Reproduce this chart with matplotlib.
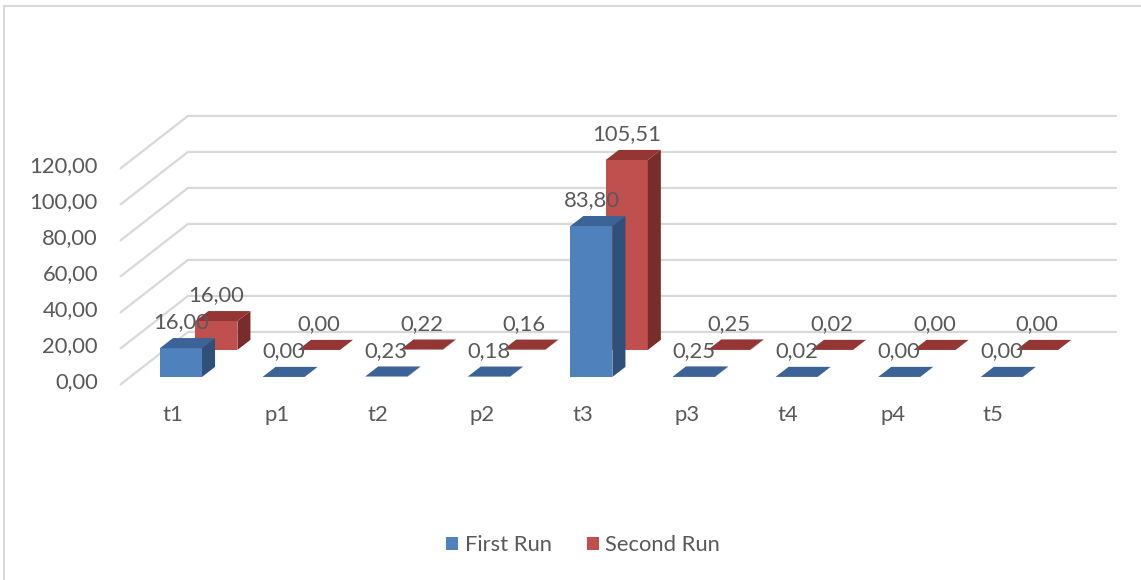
import matplotlib.pyplot as plt
from matplotlib.patches import Polygon, Patch, Rectangle

categories = ['t1', 'p1', 't2', 'p2', 't3', 'p3', 't4', 'p4', 't5']
first_run = [16.00, 0.00, 0.23, 0.18, 83.80, 0.25, 0.02, 0.00, 0.00]
second_run = [16.00, 0.00, 0.22, 0.16, 105.51, 0.25, 0.02, 0.00, 0.00]
series_names = ['First Run', 'Second Run']
yticks = [0, 20, 40, 60, 80, 100, 120]

# face colours: front, top, side
blue = ('#4f81bd', '#3b6397', '#2f5079')
red = ('#c0504d', '#943634', '#7a2c2a')
text_color = '#595959'
grid_color = '#d9d9d9'

plt.rcParams['font.family'] = ['Lato', 'DejaVu Sans']
plt.rcParams['font.size'] = 15.8

# oblique projection parameters (x in category units, y in value units)
bar_w = 0.41
box_dx, box_dy = 0.127, 5.6          # depth of one box
ser_dx, ser_dy = 0.345, 15.0         # shift of the back series
wall_dx, wall_dy = 0.663, 29.4       # depth of the whole floor
floor_x0, floor_y0 = -0.595, -4.4    # front-left corner of the wall
floor_x1 = 9.12                      # right end of the back gridlines

fig = plt.figure(figsize=(11.41, 5.80), dpi=100)
ax = fig.add_axes([0, 0, 1, 1])
ax.set_xlim(-1.764, 9.357)
ax.set_ylim(-112.8, 209.4)
ax.axis('off')

# chart border
fig.add_artist(Rectangle((0.0035, -0.05), 1.2, 1.0397, transform=fig.transFigure,
                         fill=False, edgecolor=grid_color, lw=1.5))

# side wall + back wall gridlines
for v in yticks:
    xs = [floor_x0, floor_x0 + wall_dx, floor_x1]
    ys = [v + floor_y0, v + floor_y0 + wall_dy, v + floor_y0 + wall_dy]
    ax.plot(xs, ys, color=grid_color, lw=1.6, zorder=1, solid_capstyle='butt')
    ax.text(-0.81, v - 2.8, f'{v:.2f}'.replace('.', ','), ha='right', va='center',
            color=text_color)


def draw_box(x0, y0, v, colors, z):
    front, top, side = colors
    ax.bar(x0, v, width=bar_w, bottom=y0, align='edge', color=front,
           edgecolor='none', zorder=z)
    ax.add_patch(Polygon([(x0, y0 + v), (x0 + bar_w, y0 + v),
                          (x0 + bar_w + box_dx, y0 + v + box_dy),
                          (x0 + box_dx, y0 + v + box_dy)],
                         closed=True, facecolor=top, edgecolor='none', zorder=z))
    if v > 0:
        ax.add_patch(Polygon([(x0 + bar_w, y0), (x0 + bar_w + box_dx, y0 + box_dy),
                              (x0 + bar_w + box_dx, y0 + v + box_dy),
                              (x0 + bar_w, y0 + v)],
                             closed=True, facecolor=side, edgecolor='none', zorder=z))


series = [(first_run, blue), (second_run, red)]
for i, cat in enumerate(categories):
    # back series first so the front one covers it
    for k in (1, 0):
        vals, colors = series[k]
        x0 = i - bar_w / 2 + k * ser_dx
        y0 = k * ser_dy
        v = vals[i]
        draw_box(x0, y0, v, colors, z=3 - k)
        ax.text(x0 + bar_w / 2, y0 + v + box_dy + 8.6, f'{v:.2f}'.replace('.', ','),
                ha='center', va='center', color=text_color, zorder=5)
    ax.text(i - bar_w / 2 + 0.02, -21, cat, ha='left', va='center', color=text_color)

handles = [Patch(facecolor=blue[0], label=series_names[0]),
           Patch(facecolor=red[0], label=series_names[1])]
leg = fig.legend(handles=handles, loc='center', bbox_to_anchor=(0.511, 0.06), ncol=2,
                 frameon=False, handlelength=0.55, handleheight=0.55,
                 handletextpad=0.3, columnspacing=1.6)
for t in leg.get_texts():
    t.set_color(text_color)

fig.savefig('out.png', dpi=100)
